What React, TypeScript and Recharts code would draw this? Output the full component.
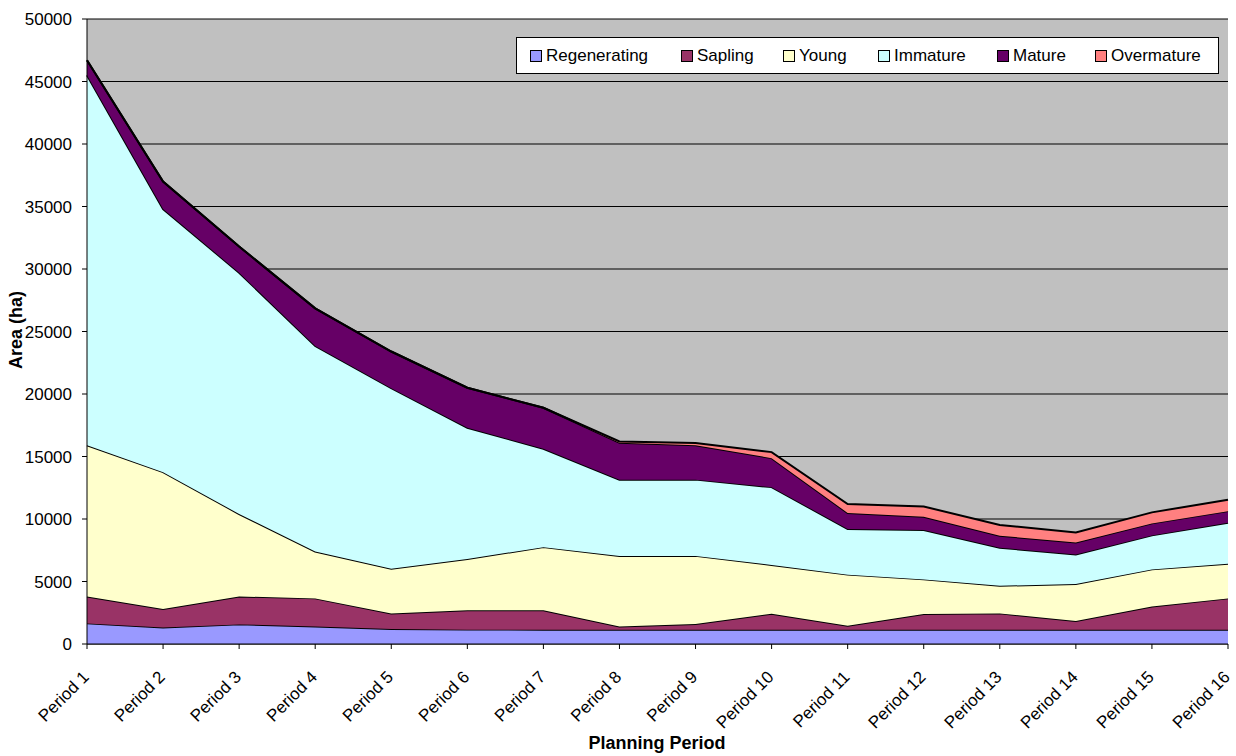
import React from "react";
import {
  AreaChart,
  Area,
  XAxis,
  YAxis,
  CartesianGrid,
} from "recharts";

const PERIODS = [
  "Period 1", "Period 2", "Period 3", "Period 4", "Period 5", "Period 6",
  "Period 7", "Period 8", "Period 9", "Period 10", "Period 11", "Period 12",
  "Period 13", "Period 14", "Period 15", "Period 16",
];

const REGENERATING = [1650, 1330, 1570, 1400, 1200, 1150, 1150, 1150, 1150, 1150, 1150, 1150, 1150, 1150, 1150, 1150];
const SAPLING = [2150, 1470, 2230, 2250, 1250, 1550, 1550, 250, 450, 1270, 320, 1250, 1300, 700, 1850, 2500];
const YOUNG = [12100, 10950, 6600, 3750, 3570, 4100, 5050, 5650, 5450, 3900, 4080, 2770, 2210, 2950, 2970, 2770];
const IMMATURE = [29600, 21050, 19300, 16450, 14450, 10500, 7870, 6100, 6100, 6230, 3650, 3950, 3040, 2370, 2720, 3280];
const MATURE = [1200, 2200, 2100, 3000, 2930, 3200, 3280, 2950, 2750, 2320, 1280, 1060, 960, 960, 960, 930];
const OVERMATURE = [0, 0, 0, 0, 0, 0, 0, 100, 180, 480, 720, 820, 860, 800, 880, 910];

const Y_TICKS = [0, 5000, 10000, 15000, 20000, 25000, 30000, 35000, 40000, 45000, 50000];

const SERIES = [
  { key: "Regenerating", values: REGENERATING, color: "#9999FF" },
  { key: "Sapling", values: SAPLING, color: "#993366" },
  { key: "Young", values: YOUNG, color: "#FFFFCC" },
  { key: "Immature", values: IMMATURE, color: "#CCFFFF" },
  { key: "Mature", values: MATURE, color: "#660066" },
  { key: "Overmature", values: OVERMATURE, color: "#FF8080" },
];

// legend item widths, tuned to the spacing in the original
const LEGEND_WIDTHS = [151, 102, 95, 119, 98, 110];

const FONT = "'Liberation Sans', Arial, sans-serif";

const chartData = PERIODS.map((period, i) => {
  const row: Record<string, string | number> = { period };
  SERIES.forEach((s) => {
    row[s.key] = s.values[i];
  });
  return row;
});

function PeriodTick(props: any) {
  const { x, y, payload } = props;
  const ax = x + 3;
  const ay = y + 29;
  return (
    <text
      x={ax}
      y={ay}
      transform={`rotate(-45 ${ax} ${ay})`}
      textAnchor="end"
      fontSize={17}
      fontFamily={FONT}
      fill="#000"
    >
      {payload.value}
    </text>
  );
}

function LegendBox() {
  return (
    <div
      style={{
        position: "absolute",
        left: 516,
        top: 37,
        boxSizing: "border-box",
        width: 703,
        height: 37,
        border: "1px solid #000",
        background: "#fff",
        display: "flex",
        alignItems: "center",
        paddingLeft: 13,
        fontFamily: FONT,
        fontSize: 17,
        color: "#000",
      }}
    >
      {SERIES.map((s, i) => (
        <div
          key={s.key}
          style={{ display: "flex", alignItems: "center", width: LEGEND_WIDTHS[i] }}
        >
          <span
            style={{
              display: "inline-block",
              boxSizing: "border-box",
              width: 12,
              height: 12,
              background: s.color,
              border: "1px solid #000",
              marginRight: 4,
            }}
          />
          <span>{s.key}</span>
        </div>
      ))}
    </div>
  );
}

export default function App() {
  return (
    <div style={{ position: "absolute", left: 0, top: 0, width: 1236, height: 756, background: "#fff" }}>
      <AreaChart
        width={1236}
        height={756}
        data={chartData}
        margin={{ top: 19, right: 8, bottom: 82, left: 27 }}
      >
        <CartesianGrid
          vertical={false}
          horizontal
          stroke="#000"
          strokeWidth={1}
          fill="#C0C0C0"
          fillOpacity={1}
        />
        <XAxis
          dataKey="period"
          height={30}
          stroke="#000"
          tickSize={5}
          tickMargin={0}
          interval={0}
          tick={<PeriodTick />}
          label={{
            content: () => (
              <text
                x={657}
                y={749}
                textAnchor="middle"
                fontSize={18}
                fontWeight="bold"
                fontFamily={FONT}
                fill="#000"
              >
                Planning Period
              </text>
            ),
          }}
        />
        <YAxis
          width={60}
          domain={[0, 50000]}
          ticks={Y_TICKS}
          interval={0}
          stroke="#000"
          tickSize={5}
          tickMargin={10}
          tick={{ fontSize: 17, fontFamily: FONT, fill: "#000" }}
          label={{
            content: () => (
              <text
                x={22}
                y={330}
                transform="rotate(-90 22 330)"
                textAnchor="middle"
                fontSize={18}
                fontWeight="bold"
                fontFamily={FONT}
                fill="#000"
              >
                Area (ha)
              </text>
            ),
          }}
        />
        {SERIES.map((s) => (
          <Area
            key={s.key}
            type="linear"
            dataKey={s.key}
            stackId="area"
            stroke="#000"
            strokeWidth={2}
            fill={s.color}
            fillOpacity={1}
            isAnimationActive={false}
          />
        ))}
      </AreaChart>
      <LegendBox />
    </div>
  );
}
